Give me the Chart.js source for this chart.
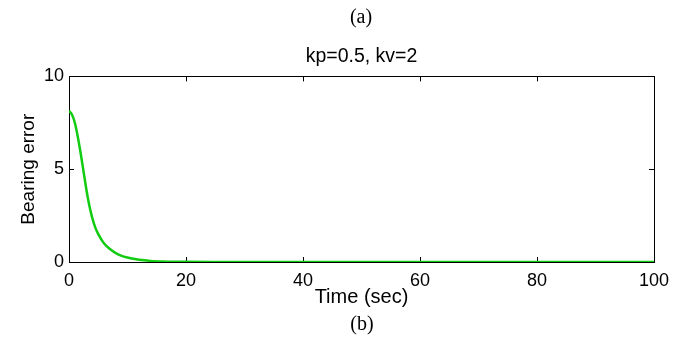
<!DOCTYPE html>
<html>
<head>
<meta charset="utf-8">
<script src="https://cdn.jsdelivr.net/npm/chart.js@4/dist/chart.umd.min.js"></script>
<style>
    html, body { margin: 0; padding: 0; background: #fff; }
    #wrap { position: relative; width: 684px; height: 343px; }
    .cap {
        position: absolute;
        font-family: 'Liberation Serif', 'Times New Roman', serif;
        font-size: 20px;
        color: #000;
        transform: translate(-50%, -50%);
        white-space: nowrap;
    }
</style>
</head>
<body>
<div id="wrap">
    <canvas id="bearingChart" width="684" height="343"></canvas>
    <div class="cap" style="left:361px; top:16px;">(a)</div>
    <div class="cap" style="left:362px; top:323px;">(b)</div>
</div>
<script>
// time samples (sec) and bearing error
const timeSec = [0, 0.5, 1, 1.5, 2, 2.5, 3, 3.5, 4, 4.5, 5, 6, 7, 8, 9, 10, 11, 12, 14, 16, 18, 20, 25, 30, 40, 50, 60, 70, 80, 90, 100];
const bearingError = [8.15, 7.95, 7.5, 6.75, 5.85, 4.85, 3.85, 3.0, 2.35, 1.85, 1.5, 1.0, 0.7, 0.48, 0.33, 0.24, 0.17, 0.12, 0.06, 0.03, 0.015, 0.007, 0, 0, 0, 0, 0, 0, 0, 0, 0];
const xTicks = [0, 20, 40, 60, 80, 100];
const yTicks = [0, 5, 10];

const tickFont = { family: "'Liberation Sans', Arial, sans-serif", size: 18 };
const labelFont = { family: "'Liberation Sans', Arial, sans-serif", size: 19.5 };

// box round the plot plus inward tick marks on all four sides
const boxTicks = {
    id: 'boxTicks',
    beforeDatasetsDraw(chart) {
        const { ctx, chartArea: a, scales } = chart;
        const len = 5;
        ctx.save();
        ctx.strokeStyle = '#000';
        ctx.lineWidth = 1;
        ctx.strokeRect(Math.round(a.left) + 0.5, Math.round(a.top) + 0.5,
            Math.round(a.right - a.left), Math.round(a.bottom - a.top));
        ctx.beginPath();
        xTicks.forEach(v => {
            const px = Math.round(scales.x.getPixelForValue(v)) + 0.5;
            ctx.moveTo(px, a.bottom); ctx.lineTo(px, a.bottom - len);
            ctx.moveTo(px, a.top); ctx.lineTo(px, a.top + len);
        });
        yTicks.forEach(v => {
            const py = Math.round(scales.y.getPixelForValue(v)) + 0.5;
            ctx.moveTo(a.left, py); ctx.lineTo(a.left + len, py);
            ctx.moveTo(a.right, py); ctx.lineTo(a.right - len, py);
        });
        ctx.stroke();
        ctx.restore();
    }
};

new Chart(document.getElementById('bearingChart'), {
    type: 'line',
    data: {
        datasets: [{
            data: timeSec.map((t, i) => ({ x: t, y: bearingError[i] })),
            borderColor: '#11cc11',
            borderWidth: 2.5,
            pointRadius: 0,
            fill: false,
            cubicInterpolationMode: 'monotone'
        }]
    },
    options: {
        responsive: false,
        animation: false,
        layout: {
            padding: { left: 0, right: 30, top: 0, bottom: 34 }
        },
        plugins: {
            legend: { display: false },
            tooltip: { enabled: false },
            title: {
                display: true,
                text: 'kp=0.5, kv=2',
                color: '#000',
                fullSize: false,
                font: { ...labelFont, weight: 'normal' },
                padding: { top: 45, bottom: 8 }
            }
        },
        scales: {
            x: {
                type: 'linear',
                min: 0,
                max: 100,
                afterBuildTicks: s => { s.ticks = xTicks.map(v => ({ value: v })); },
                afterFit: s => { s.height = 47; },
                grid: { display: false, drawTicks: false },
                border: { display: false },
                ticks: { color: '#000', font: tickFont, padding: 8, maxRotation: 0 },
                title: {
                    display: true,
                    text: 'Time (sec)',
                    color: '#000',
                    font: { ...labelFont, size: 20 },
                    padding: { top: 0, bottom: 0 }
                }
            },
            y: {
                min: 0,
                max: 10,
                afterBuildTicks: s => { s.ticks = yTicks.map(v => ({ value: v })); },
                afterFit: s => { s.width = 69; },
                grid: { display: false, drawTicks: false },
                border: { display: false },
                ticks: { color: '#000', font: tickFont, padding: 5 },
                title: {
                    display: true,
                    text: 'Bearing error',
                    color: '#000',
                    font: { ...labelFont, size: 19 },
                    padding: { top: 17, bottom: 0 }
                }
            }
        }
    },
    plugins: [boxTicks]
});
</script>
</body>
</html>
